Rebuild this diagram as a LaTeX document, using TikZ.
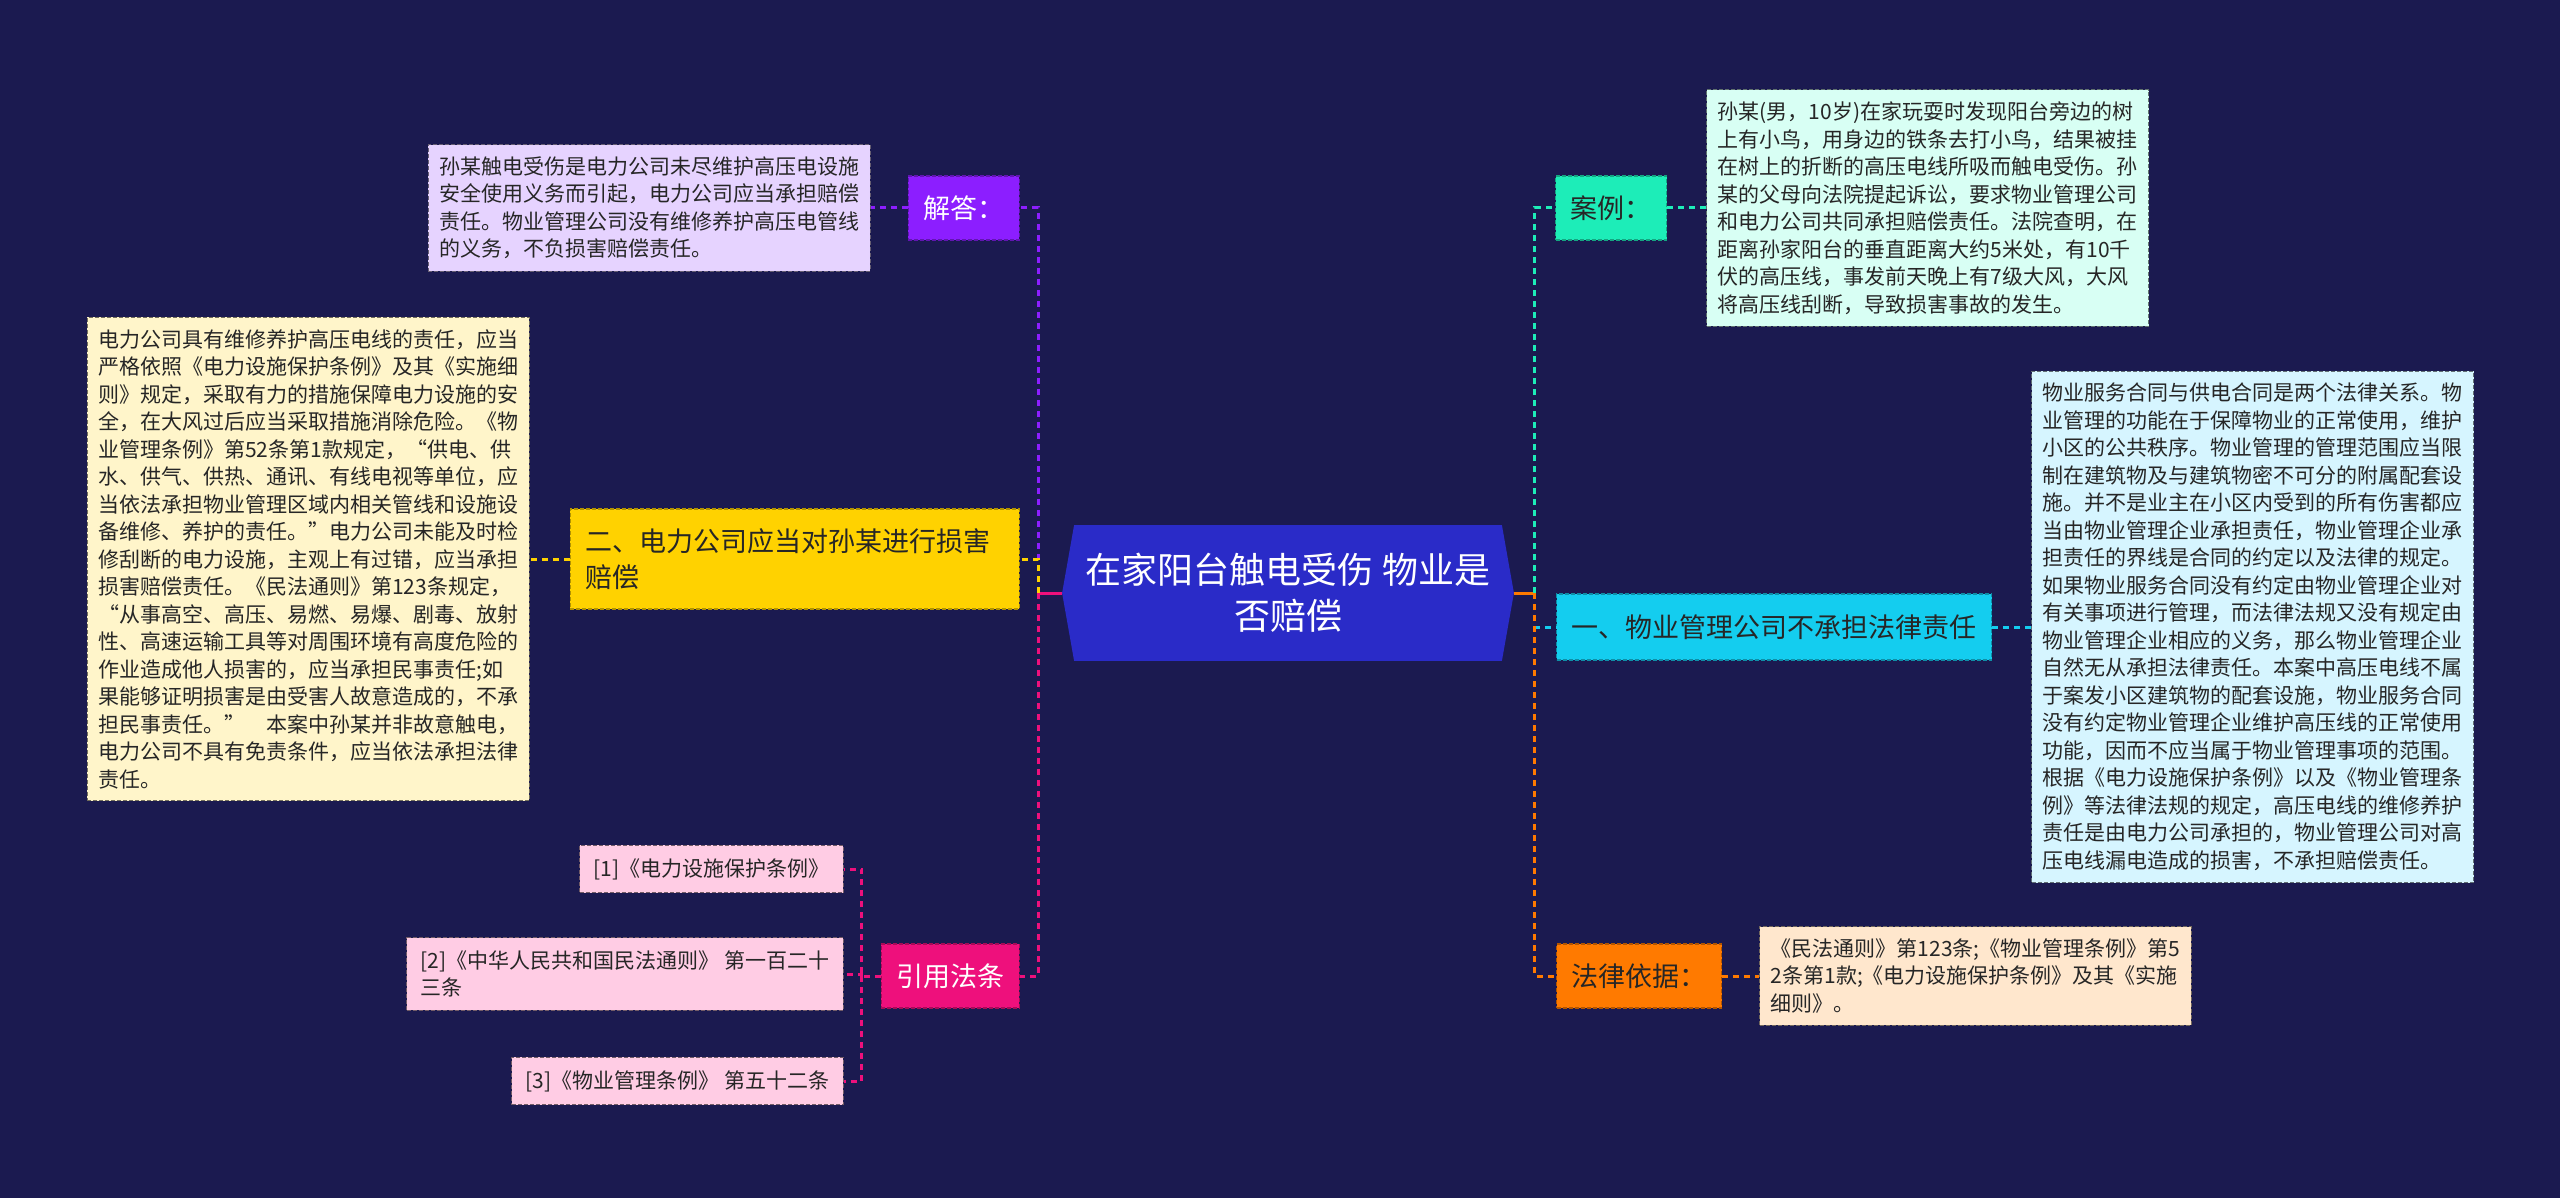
\documentclass[tikz,border=0pt]{standalone}
\usepackage{fontspec}
\setmainfont{Noto Sans CJK SC}
\usetikzlibrary{positioning,calc,backgrounds}
\definecolor{pagenavy}{HTML}{1B1A50}
\definecolor{hubblue}{HTML}{2A2BC8}
\definecolor{answerpurple}{HTML}{8C1EFF}
\definecolor{answerlav}{HTML}{E6D3FF}
\definecolor{compgold}{HTML}{FFD200}
\definecolor{compcream}{HTML}{FFF5CA}
\definecolor{citerose}{HTML}{EE107C}
\definecolor{citeblush}{HTML}{FFCCE4}
\definecolor{casemint}{HTML}{1DEDB8}
\definecolor{casepale}{HTML}{D8FFF4}
\definecolor{liabsky}{HTML}{14CDEF}
\definecolor{liabpale}{HTML}{D6F5FF}
\definecolor{basisorange}{HTML}{FF7A00}
\definecolor{basispeach}{HTML}{FFE7CD}
\definecolor{ink}{HTML}{262626}
\tikzset{
    branch/.style = {
        fill = #1,
        draw = #1!70!black,
        dash pattern = on 2pt off 1pt,
        line width = 0.6pt,
        rectangle,
        inner xsep = 7.5pt,
        minimum height = 32pt,
        font = \fontsize{13.5}{18}\selectfont,
        text = ink
    },
    leaf/.style = {
        fill = #1,
        draw = #1!45!black,
        dash pattern = on 2pt off 1pt,
        line width = 0.6pt,
        rectangle,
        align = left,
        inner xsep = 5.5pt,
        inner ysep = 6pt,
        font = \fontsize{10.5}{13.75}\selectfont,
        text = ink
    },
    link/.style = {
        draw = #1,
        line width = 1.5pt,
        dash pattern = on 3pt off 2.5pt
    },
    spine/.style = {
        draw = #1,
        line width = 1.5pt
    }
}

\begin{document}
\begin{tikzpicture}[x=0.5pt, y=-0.5pt]
    \useasboundingbox (0,0) rectangle (2560,1198);
    % centre
    \node (hub) at (1288,593) [minimum width=225.5pt, minimum height=67.5pt, align=center, text=white, font=\fontsize{18}{23}\selectfont]{在家阳台触电受伤 物业是\\否赔偿};
    % left branches
    \node (jieda) [branch=answerpurple, anchor=east, text=white] at (1020,208) {解答：};
    \node (comp) [branch=compgold, anchor=east, text width=209.5pt, align=left, minimum height=50pt] at (1020,559) {二、电力公司应当对孙某进行损害\\赔偿};
    \node (cite) [branch=citerose, anchor=east, text=white] at (1020,976) {引用法条};
    % right branches
    \node (case) [branch=casemint, anchor=west] at (1555,208) {案例：};
    \node (liab) [branch=liabsky, anchor=west, minimum height=33pt] at (1556,627) {一、物业管理公司不承担法律责任};
    \node (basis) [branch=basisorange, anchor=west] at (1556,976) {法律依据：};
    % detail texts
    \node (jiedatext) [leaf=answerlav, left=18.5pt of jieda]{孙某触电受伤是电力公司未尽维护高压电设施\\安全使用义务而引起，电力公司应当承担赔偿\\责任。物业管理公司没有维修养护高压电管线\\的义务，不负损害赔偿责任。};
    \node (comptext) [leaf=compcream, left=20pt of comp]{电力公司具有维修养护高压电线的责任，应当\\严格依照《电力设施保护条例》及其《实施细\\则》规定，采取有力的措施保障电力设施的安\\全，在大风过后应当采取措施消除危险。《物\\业管理条例》第52条第1款规定，“供电、供\\水、供气、供热、通讯、有线电视等单位，应\\当依法承担物业管理区域内相关管线和设施设\\备维修、养护的责任。”电力公司未能及时检\\修刮断的电力设施，主观上有过错，应当承担\\损害赔偿责任。《民法通则》第123条规定，\\“从事高空、高压、易燃、易爆、剧毒、放射\\性、高速运输工具等对周围环境有高度危险的\\作业造成他人损害的，应当承担民事责任;如\\果能够证明损害是由受害人故意造成的，不承\\担民事责任。”\hspace{1em}本案中孙某并非故意触电，\\电力公司不具有免责条件，应当依法承担法律\\责任。};
    \node (casetext) [leaf=casepale, right=19.5pt of case]{孙某(男，10岁)在家玩耍时发现阳台旁边的树\\上有小鸟，用身边的铁条去打小鸟，结果被挂\\在树上的折断的高压电线所吸而触电受伤。孙\\某的父母向法院提起诉讼，要求物业管理公司\\和电力公司共同承担赔偿责任。法院查明，在\\距离孙家阳台的垂直距离大约5米处，有10千\\伏的高压线，事发前天晚上有7级大风，大风\\将高压线刮断，导致损害事故的发生。};
    \node (liabtext) [leaf=liabpale, right=19.5pt of liab]{物业服务合同与供电合同是两个法律关系。物\\业管理的功能在于保障物业的正常使用，维护\\小区的公共秩序。物业管理的管理范围应当限\\制在建筑物及与建筑物密不可分的附属配套设\\施。并不是业主在小区内受到的所有伤害都应\\当由物业管理企业承担责任，物业管理企业承\\担责任的界线是合同的约定以及法律的规定。\\如果物业服务合同没有约定由物业管理企业对\\有关事项进行管理，而法律法规又没有规定由\\物业管理企业相应的义务，那么物业管理企业\\自然无从承担法律责任。本案中高压电线不属\\于案发小区建筑物的配套设施，物业服务合同\\没有约定物业管理企业维护高压线的正常使用\\功能，因而不应当属于物业管理事项的范围。\\根据《电力设施保护条例》以及《物业管理条\\例》等法律法规的规定，高压电线的维修养护\\责任是由电力公司承担的，物业管理公司对高\\压电线漏电造成的损害，不承担赔偿责任。};
    \node (basistext) [leaf=basispeach, right=18.5pt of basis]{《民法通则》第123条;《物业管理条例》第5\\2条第1款;《电力设施保护条例》及其《实施\\细则》。};
    % cited laws
    \node (ref1) [leaf=citeblush, anchor=east, inner xsep=7pt, inner ysep=6.5pt] at (844,869) {[1]《电力设施保护条例》};
    \node (ref2) [leaf=citeblush, anchor=east, inner xsep=7pt, inner ysep=6.5pt] at (844,974) {[2]《中华人民共和国民法通则》 第一百二十\\三条};
    \node (ref3) [leaf=citeblush, anchor=east, inner xsep=7pt, inner ysep=6.5pt] at (844,1081) {[3]《物业管理条例》 第五十二条};
    % connectors
    \coordinate (lhub) at ($(hub.west)+(-24,0)$);
    \coordinate (rhub) at ($(hub.east)+(21,0)$);
    \coordinate (citehub) at ($(cite.west)+(-19,0)$);
    \draw[spine=citerose] (hub.west) -- (lhub);
    \draw[spine=basisorange] (hub.east) -- (rhub);
    \draw[link=answerpurple] (lhub) |- (jieda.east);
    \draw[link=compgold] (lhub) |- (comp.east);
    \draw[link=citerose] (lhub) |- (cite.east);
    \draw[link=casemint] (rhub) |- (case.west);
    \draw[link=liabsky] (rhub) |- (liab.west);
    \draw[link=basisorange] (rhub) |- (basis.west);
    \draw[link=answerpurple] (jieda.west) -- (jiedatext.east);
    \draw[link=compgold] (comp.west) -- (comptext.east);
    \draw[link=casemint] (case.east) -- (casetext.west);
    \draw[link=liabsky] (liab.east) -- (liabtext.west);
    \draw[link=basisorange] (basis.east) -- (basistext.west);
    \draw[link=citerose] (cite.west) -- (citehub) |- (ref1.east);
    \draw[link=citerose] (citehub) |- (ref2.east);
    \draw[link=citerose] (citehub) |- (ref3.east);
    %background and hexagon
    \begin{scope}[on background layer]
        \fill[pagenavy] (0,0) rectangle (2560,1198);
        \fill[hubblue] ($(hub.north west)+(12,0)$) -- ($(hub.north east)-(12,0)$) -- (hub.east) -- ($(hub.south east)-(12,0)$) -- ($(hub.south west)+(12,0)$) -- (hub.west) -- cycle;
    \end{scope}
\end{tikzpicture}
\end{document}
